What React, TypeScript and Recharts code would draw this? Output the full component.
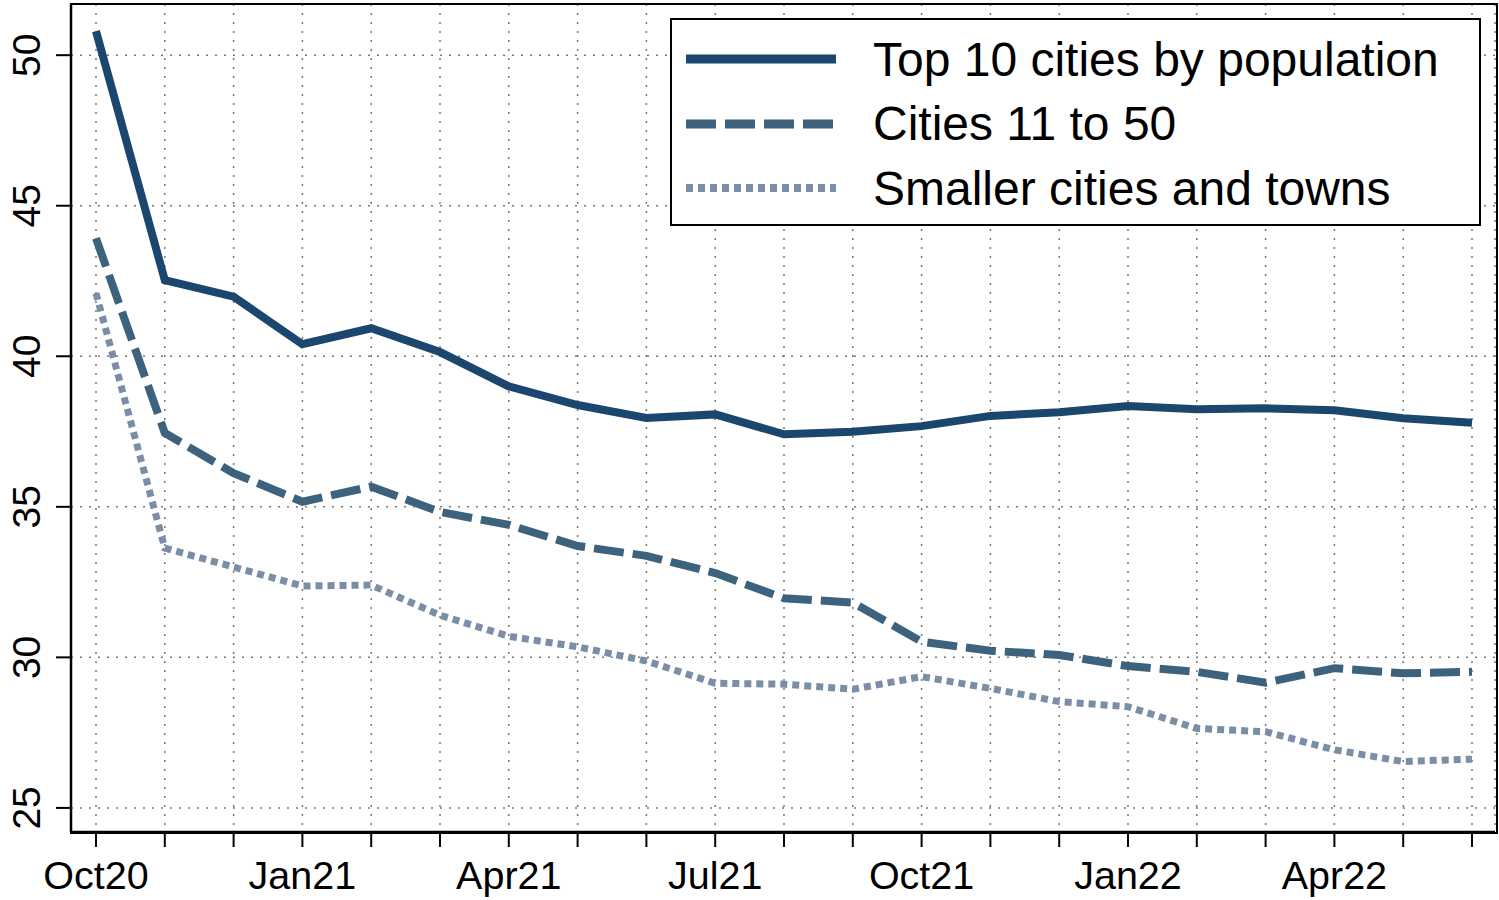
import { LineChart, Line, XAxis, YAxis, CartesianGrid, Legend } from 'recharts'

const MONTHS = [
  'Oct20', 'Nov20', 'Dec20', 'Jan21', 'Feb21', 'Mar21', 'Apr21', 'May21', 'Jun21', 'Jul21', 'Aug21',
  'Sep21', 'Oct21', 'Nov21', 'Dec21', 'Jan22', 'Feb22', 'Mar22', 'Apr22', 'May22', 'Jun22',
]
const TICK_LABELS = ['Oct20', 'Jan21', 'Apr21', 'Jul21', 'Oct21', 'Jan22', 'Apr22']
const Y_TICKS = [25, 30, 35, 40, 45, 50]

const TOP10 = [
  50.8, 42.53, 41.98, 40.4, 40.93, 40.14, 39.0, 38.38, 37.95, 38.07, 37.41,
  37.49, 37.68, 38.02, 38.14, 38.35, 38.24, 38.27, 38.21, 37.94, 37.79,
]
const CITIES_11_50 = [
  43.92, 37.45, 36.12, 35.17, 35.67, 34.83, 34.4, 33.7, 33.37, 32.8, 31.96,
  31.82, 30.52, 30.22, 30.08, 29.71, 29.52, 29.16, 29.64, 29.47, 29.52,
]
const SMALLER = [
  42.1, 33.63, 33.0, 32.37, 32.4, 31.4, 30.7, 30.35, 29.88, 29.14, 29.11,
  28.94, 29.36, 28.97, 28.53, 28.36, 27.64, 27.53, 26.93, 26.54, 26.62,
]

const SERIES = [
  { key: 'top10', name: 'Top 10 cities by population', color: '#1b466e', width: 8, dash: undefined },
  { key: 'mid', name: 'Cities 11 to 50', color: '#3c627d', width: 8, dash: '30 9' },
  { key: 'small', name: 'Smaller cities and towns', color: '#7a8fa7', width: 7, dash: '7 5' },
]

const data = MONTHS.map((m, i) => ({
  month: m,
  top10: TOP10[i],
  mid: CITIES_11_50[i],
  small: SMALLER[i],
}))

const FONT = '"Liberation Sans", Arial, Helvetica, sans-serif'

function XTick({ x, y, payload }: any) {
  const label = payload?.value
  if (!TICK_LABELS.includes(label)) return null
  return (
    <text x={x} y={y + 40} textAnchor="middle" fontSize={39.5} fontFamily={FONT} fill="#000">
      {label}
    </text>
  )
}

function YTick({ y, payload }: any) {
  return (
    <text
      x={40}
      y={y}
      transform={`rotate(-90, 40, ${y})`}
      textAnchor="middle"
      fontSize={39}
      fontFamily={FONT}
      fill="#000"
    >
      {payload?.value}
    </text>
  )
}

function LegendBox() {
  return (
    <div
      style={{
        width: 807,
        height: 204,
        border: '2px solid #000',
        background: '#fff',
        position: 'relative',
        fontFamily: FONT,
      }}
    >
      {SERIES.map((s, i) => (
        <div
          key={s.key}
          style={{ position: 'absolute', left: 0, top: 7 + i * 64.5, height: 64, display: 'flex', alignItems: 'center' }}
        >
          <svg width={170} height={20} style={{ marginLeft: 12 }}>
            <line x1={2} y1={10} x2={152} y2={10} stroke={s.color} strokeWidth={s.width + 1} strokeDasharray={s.dash} />
          </svg>
          <span style={{ fontSize: 48, color: '#000', marginLeft: 19, whiteSpace: 'nowrap' }}>{s.name}</span>
        </div>
      ))}
    </div>
  )
}

export default function App() {
  return (
    <div style={{ position: 'absolute', left: 0, top: 0, width: 1499, height: 900, background: '#fff' }}>
      <LineChart width={1499} height={900} data={data} margin={{ top: 4, right: 4, left: 0, bottom: 0 }}>
        <CartesianGrid stroke="#777" strokeDasharray="2 7" strokeWidth={1.5} />
        <XAxis
          dataKey="month"
          interval={0}
          height={68}
          padding={{ left: 25, right: 23 }}
          tick={<XTick />}
          tickSize={15}
          tickLine={{ stroke: '#000', strokeWidth: 2 }}
          axisLine={{ stroke: '#000', strokeWidth: 2.5 }}
        />
        <YAxis
          width={71}
          domain={[24.2, 51.7]}
          ticks={Y_TICKS}
          allowDataOverflow
          tick={<YTick />}
          tickSize={15}
          tickLine={{ stroke: '#000', strokeWidth: 2 }}
          axisLine={{ stroke: '#000', strokeWidth: 2.5 }}
        />
        {SERIES.map((s) => (
          <Line
            key={s.key}
            type="linear"
            dataKey={s.key}
            name={s.name}
            stroke={s.color}
            strokeWidth={s.width}
            strokeDasharray={s.dash}
            strokeLinejoin="miter"
            dot={false}
            activeDot={false}
            isAnimationActive={false}
          />
        ))}
        <Legend
          layout="vertical"
          align="center"
          verticalAlign="middle"
          content={() => <LegendBox />}
          wrapperStyle={{ position: 'absolute', left: 670, top: 18, width: 811, height: 208 }}
        />
      </LineChart>
      {/* plot frame */}
      <div
        style={{
          position: 'absolute',
          left: 70,
          top: 3,
          width: 1424,
          height: 827,
          border: '2.5px solid #000',
          pointerEvents: 'none',
        }}
      />
    </div>
  )
}
